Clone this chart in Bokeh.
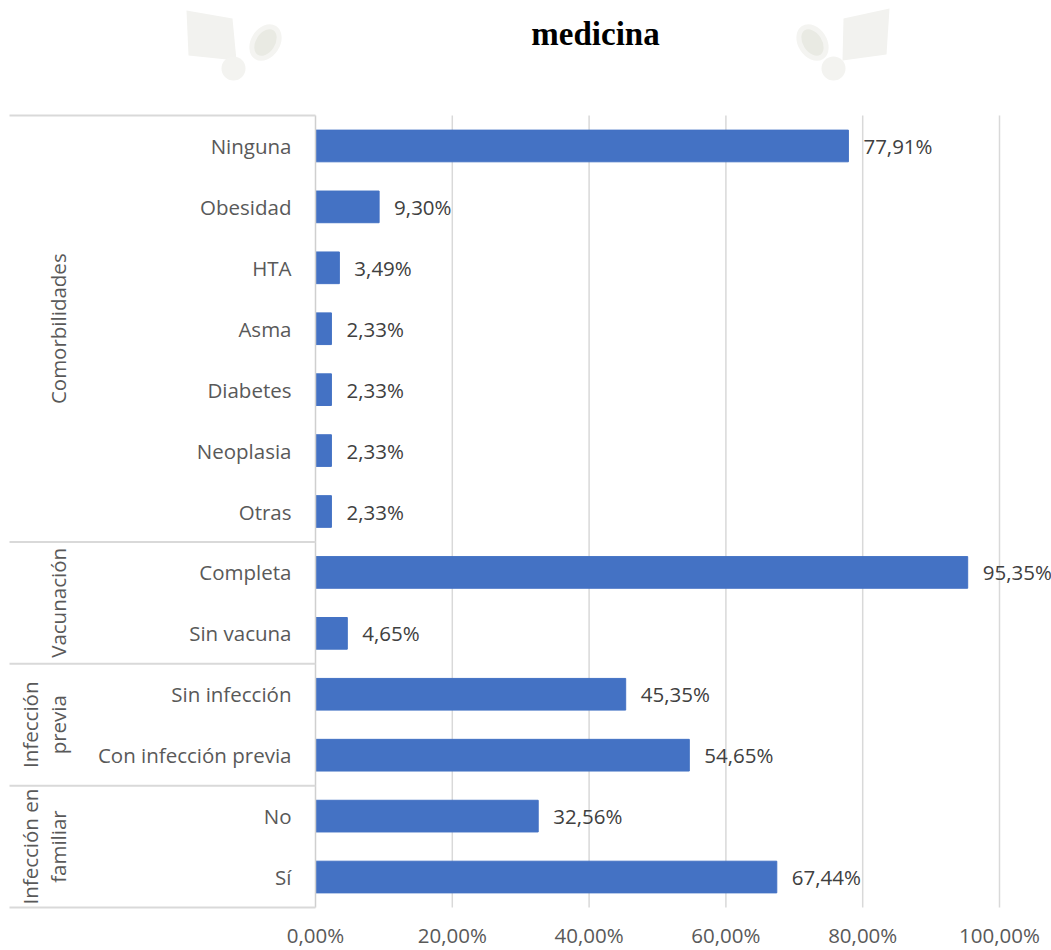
import numpy as np
from bokeh.plotting import figure
from bokeh.models import Range1d, ColumnDataSource
from bokeh.core.properties import value
from bokeh.embed import file_html
from bokeh.resources import INLINE

# ---------------- data ----------------
categories = ["Ninguna", "Obesidad", "HTA", "Asma", "Diabetes", "Neoplasia", "Otras",
              "Completa", "Sin vacuna", "Sin infección", "Con infección previa", "No", "Sí"]
values = [77.91, 9.30, 3.49, 2.33, 2.33, 2.33, 2.33, 95.35, 4.65, 45.35, 54.65, 32.56, 67.44]
groups = ["Comorbilidades", "Vacunación", "Infección previa", "Infección en familiar"]
group_sizes = [7, 2, 2, 2]
group_label_lines = [["Comorbilidades"], ["Vacunación"], ["Infección", "previa"], ["Infección en", "familiar"]]
x_ticks = [0, 20, 40, 60, 80, 100]
x_tick_labels = ["0,00%", "20,00%", "40,00%", "60,00%", "80,00%", "100,00%"]
title_text = "medicina"

# ---------------- layout (pixels of the page) ----------------
W, H = 1051, 950
X0_PX, X100_PX = 315, 999          # pixel of 0 % and 100 %
TOP_PX, BOTTOM_PX = 115, 907       # plot area top / bottom
LEFT_PX = 9                        # left edge of the category table
n = len(categories)
ppu = (X100_PX - X0_PX) / 100.0    # pixels per percent
rh = (BOTTOM_PX - TOP_PX) / n      # pixels per row


def dx(px):
    return (px - X0_PX) / ppu


def dy(py):
    return (py - TOP_PX) / rh


FONT = value("Open Sans")
FS = "20.5px"
GRAY = "#595959"
LINE = "#d9d9d9"

p = figure(width=W, height=H, output_backend="svg", toolbar_location=None,
           x_range=Range1d(dx(0), dx(W)), y_range=Range1d(dy(H), dy(0)),
           x_axis_location=None, y_axis_location=None,
           min_border=0, min_border_left=0, min_border_right=0,
           min_border_top=0, min_border_bottom=0)
p.outline_line_color = None
p.background_fill_color = "white"
p.border_fill_color = "white"
p.xgrid.visible = False
p.ygrid.visible = False

# faint watermark decorations (top left / top right)
wm_page = "#f2f2ef"
wm_oval = "#e9eae3"
p.patches(xs=[[dx(186), dx(232), dx(236), dx(188)], [dx(843), dx(889), dx(886), dx(842)]],
          ys=[[dy(10), dy(18), dy(60), dy(55)], [dy(18), dy(8), dy(54), dy(60)]],
          fill_color=wm_page, line_color=None)
p.ellipse(x=[dx(265), dx(812)], y=[dy(42), dy(42)], width=[34 / ppu, 34 / ppu],
          height=[24 / rh, 24 / rh], angle=[1.0, -1.0], fill_color=wm_oval,
          line_color="#f4f4f1", line_width=5)
p.circle(x=[dx(233), dx(833)], y=[dy(68), dy(68)], radius=12 / ppu,
         fill_color="#f3f3f0", line_color=None)

# title
p.text(x=[dx(595)], y=[dy(33)], text=[title_text], text_align="center",
       text_baseline="middle", text_font=value("Liberation Serif"),
       text_font_style="bold", text_font_size="33px", text_color="black")

# vertical gridlines
p.segment(x0=x_ticks[1:], y0=[0] * (len(x_ticks) - 1), x1=x_ticks[1:],
          y1=[n] * (len(x_ticks) - 1), line_color=LINE, line_width=1.5)

# x tick labels
p.text(x=x_ticks, y=[dy(934)] * len(x_ticks), text=x_tick_labels, text_align="center",
       text_baseline="middle", text_font=FONT, text_font_size=FS, text_color=GRAY)

# bars
ys = [i + 0.5 for i in range(n)]
labels = [f"{v:.2f}".replace(".", ",") + "%" for v in values]
src = ColumnDataSource(dict(y=ys, v=values, cat=categories, lab=labels, zero=[0] * n))
p.hbar(y="y", left=0, right="v", height=0.52, source=src, fill_color="#4472C4",
       line_color="#4472C4")

# value labels
p.text(x="v", y="y", text="lab", source=src, x_offset=15, text_align="left",
       text_baseline="middle", text_font=FONT, text_font_size=FS, text_color="#404040")

# category labels
p.text(x="zero", y="y", text="cat", source=src, x_offset=-24, text_align="right",
       text_baseline="middle", text_font=FONT, text_font_size=FS, text_color=GRAY)

# axis line at 0
p.segment(x0=[0], y0=[0], x1=[0], y1=[n], line_color="#cfcfcf", line_width=1.5)

# group separators
bounds = [0] + list(np.cumsum(group_sizes))
p.segment(x0=[dx(LEFT_PX)] * len(bounds), y0=bounds, x1=[0] * len(bounds), y1=bounds,
          line_color=LINE, line_width=2)

# group labels (rotated)
gx, gy, gt = [], [], []
for gi, lines in enumerate(group_label_lines):
    yc = (bounds[gi] + bounds[gi + 1]) / 2.0
    pxs = [57] if len(lines) == 1 else [29, 57]
    for line, pxv in zip(lines, pxs):
        gx.append(dx(pxv))
        gy.append(yc)
        gt.append(line)
p.text(x=gx, y=gy, text=gt, angle=np.pi / 2, text_align="center", text_baseline="middle",
       text_font=FONT, text_font_size=FS, text_color=GRAY)

open("out.html", "w").write(file_html(p, INLINE))
